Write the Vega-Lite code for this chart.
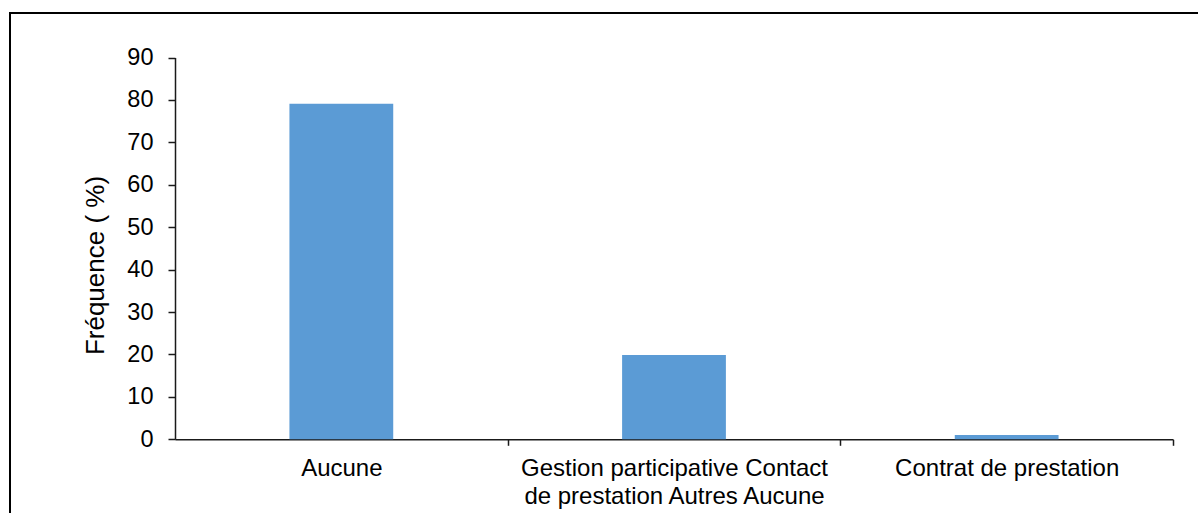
{
  "$schema": "https://vega.github.io/schema/vega-lite/v6.json",
  "width": 1190,
  "height": 510,
  "autosize": "none",
  "padding": {"left": 10, "top": 13, "right": -2, "bottom": -10},
  "background": "white",
  "config": {
    "view": {"stroke": "#000000", "strokeWidth": 2},
    "font": "Liberation Sans"
  },
  "data": {
    "values": [
      {"categorie": "Aucune", "frequence": 79.1},
      {"categorie": "Gestion participative Contact de prestation Autres Aucune", "frequence": 19.9},
      {"categorie": "Contrat de prestation", "frequence": 1.0}
    ]
  },
  "mark": {"type": "bar", "color": "#5B9BD5"},
  "encoding": {
    "x": {
      "field": "categorie",
      "type": "nominal",
      "sort": null,
      "scale": {"range": [165, 1163], "paddingInner": 0.688, "paddingOuter": 0.344},
      "axis": {
        "orient": "bottom",
        "offset": -83.7,
        "title": null,
        "ticks": true,
        "bandPosition": 1,
        "tickOffset": 114.4,
        "labelOffset": -114.4,
        "tickSize": 6,
        "tickWidth": 1.5,
        "tickColor": "#1a1a1a",
        "domainColor": "#1a1a1a",
        "domainWidth": 1.5,
        "labelAngle": 0,
        "labelFontSize": 24,
        "labelColor": "#000000",
        "labelPadding": 11,
        "labelLineHeight": 28,
        "labelLimit": 0,
        "labelExpr": "length(datum.label) > 30 ? ['Gestion participative Contact', 'de prestation Autres Aucune'] : datum.label"
      }
    },
    "y": {
      "field": "frequence",
      "type": "quantitative",
      "scale": {"domain": [0, 90], "range": [426.3, 44.5], "nice": false},
      "axis": {
        "orient": "left",
        "offset": -165,
        "values": [0, 10, 20, 30, 40, 50, 60, 70, 80, 90],
        "grid": false,
        "ticks": true,
        "tickSize": 7,
        "tickWidth": 1.5,
        "tickColor": "#1a1a1a",
        "domainColor": "#1a1a1a",
        "domainWidth": 1.5,
        "labelFontSize": 23.5,
        "labelColor": "#000000",
        "labelPadding": 15,
        "title": "Fréquence ( %)",
        "titleFontSize": 26,
        "titleFontWeight": "normal",
        "titleColor": "#000000",
        "titleAngle": -90,
        "titleAlign": "center",
        "titleBaseline": "alphabetic",
        "titleX": -72,
        "titleY": 252
      }
    }
  }
}
